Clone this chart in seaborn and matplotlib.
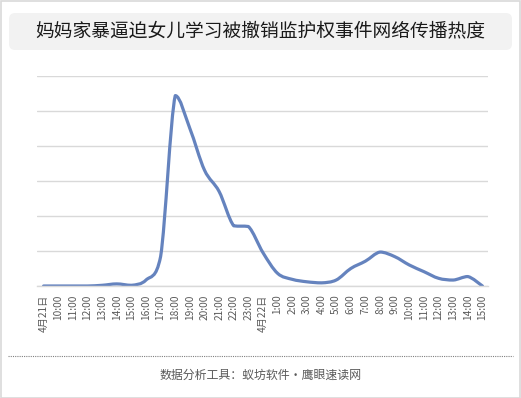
import numpy as np
import pandas as pd
import seaborn as sns
import matplotlib.pyplot as plt
from matplotlib.patches import FancyBboxPatch, Rectangle, PathPatch
from matplotlib.path import Path
from matplotlib.lines import Line2D

# 时间点标签
time_labels = ['4月21日', '10:00', '11:00', '12:00', '13:00', '14:00', '15:00', '16:00',
               '17:00', '18:00', '19:00', '20:00', '21:00', '22:00', '23:00',
               '4月22日', '1:00', '2:00', '3:00', '4:00', '5:00', '6:00', '7:00',
               '8:00', '9:00', '10:00', '11:00', '12:00', '13:00', '14:00', '15:00']
# 传播热度 (估读)
heat = [0, 0, 0, 0, 0.02, 0.06, 0.02, 0.17,
        0.84, 5.44, 4.5, 3.31, 2.7, 1.72, 1.7,
        0.95, 0.36, 0.19, 0.12, 0.09, 0.17, 0.5, 0.71,
        0.97, 0.84, 0.6, 0.41, 0.22, 0.17, 0.27, 0.0]

df = pd.DataFrame({'idx': range(len(heat)), 'heat': heat})

sns.set_theme(style='white')
plt.rcParams['font.family'] = ['Noto Sans CJK SC', 'DejaVu Sans']

fig = plt.figure(figsize=(5.21, 3.98), dpi=100)
fig.patch.set_facecolor('white')

# 外框
fig.patches.append(Rectangle((0.001, 0.001), 0.997, 0.996, transform=fig.transFigure,
                             fill=False, edgecolor='#d9d9d9', linewidth=1.2))

# 标题框
title_box = FancyBboxPatch((9 / 521, 1 - 50 / 398), 503 / 521, 37 / 398,
                           boxstyle='round,pad=0,rounding_size=0.012',
                           transform=fig.transFigure, facecolor='#f2f2f2',
                           edgecolor='none', mutation_aspect=521 / 398)
fig.patches.append(title_box)
fig.text(0.5, 1 - 31 / 398, '妈妈家暴逼迫女儿学习被撤销监护权事件网络传播热度',
         ha='center', va='center', fontsize=13.5, color='#1a1a1a')

ax = fig.add_axes([37 / 521, 1 - 286 / 398, 451 / 521, 210 / 398])
sns.lineplot(data=df, x='idx', y='heat', ax=ax, color='#6583be', linewidth=2.3)

# 平滑线: 用贝塞尔控制点绘制同一条数据, 控制点不超出相邻两点范围
line = ax.lines[0]
xs, ys = [np.asarray(a, float) for a in line.get_data()]
verts = [(xs[0], ys[0])]
codes = [Path.MOVETO]
n = len(xs)
for i in range(n - 1):
    p0 = np.array([xs[max(i - 1, 0)], ys[max(i - 1, 0)]])
    p1 = np.array([xs[i], ys[i]])
    p2 = np.array([xs[i + 1], ys[i + 1]])
    p3 = np.array([xs[min(i + 2, n - 1)], ys[min(i + 2, n - 1)]])
    c1 = p1 + (p2 - p0) / 6
    c2 = p2 - (p3 - p1) / 6
    lo, hi = min(p1[1], p2[1]), max(p1[1], p2[1])
    c1[1] = np.clip(c1[1], lo, hi)
    c2[1] = np.clip(c2[1], lo, hi)
    verts += [tuple(c1), tuple(c2), tuple(p2)]
    codes += [Path.CURVE4] * 3
ax.add_patch(PathPatch(Path(verts, codes), facecolor='none', edgecolor='#6583be',
                       linewidth=2.3, capstyle='round', joinstyle='round'))
line.set_visible(False)

ax.set_xlim(-0.45, 30.38)
ax.set_ylim(0, 6)
ax.set_yticks(range(0, 7))
ax.set_yticklabels([])
ax.tick_params(axis='y', length=0)
ax.grid(axis='y', color='#d9d9d9', linewidth=1)
ax.set_axisbelow(True)
for s in ['top', 'right', 'left']:
    ax.spines[s].set_visible(False)
ax.spines['bottom'].set_color('#d9d9d9')
ax.spines['bottom'].set_linewidth(1)

ax.set_xticks(range(len(time_labels)))
ax.set_xticklabels(time_labels, rotation=90, fontsize=7.3, color='#595959')
ax.tick_params(axis='x', length=0, pad=6)
ax.set_xlabel('')
ax.set_ylabel('')

# 虚线分隔和来源
fig.add_artist(Line2D([8 / 521, 513 / 521], [1 - 356 / 398, 1 - 356 / 398],
                      transform=fig.transFigure, color='#808080',
                      linestyle=(0, (1, 1)), linewidth=0.8))
fig.text(0.5, 1 - 375 / 398, '数据分析工具：蚁坊软件・鹰眼速读网',
         ha='center', va='center', fontsize=8.6, color='#595959')

fig.savefig('out.png', dpi=100)
